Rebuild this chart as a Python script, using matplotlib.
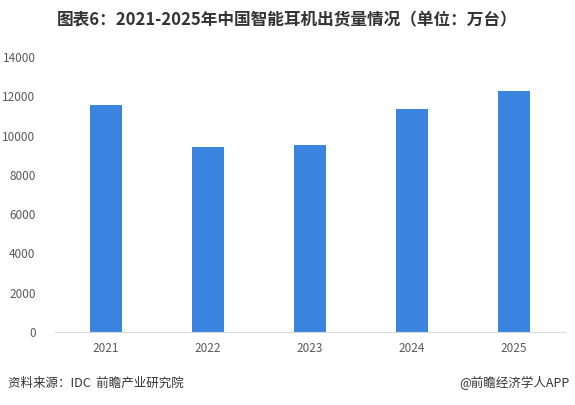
import matplotlib
matplotlib.use("Agg")
import matplotlib.pyplot as plt

plt.rcParams['font.family'] = ['Noto Sans CJK SC', 'DejaVu Sans']

years = ["2021", "2022", "2023", "2024", "2025"]
shipments = [11550, 9420, 9520, 11350, 12270]
yticks = [0, 2000, 4000, 6000, 8000, 10000, 12000, 14000]

title = "图表6：2021-2025年中国智能耳机出货量情况（单位：万台）"
source = "资料来源：IDC  前瞻产业研究院"
credit = "@前瞻经济学人APP"

fig = plt.figure(figsize=(5.75, 4.05), dpi=100)
ax = fig.add_axes([55/575, (405-332)/405, 510/575, 275/405])

x = range(len(years))
ax.bar(x, shipments, width=0.31, color="#3A84E0", zorder=2)
ax.set_xlim(-0.5, len(years) - 0.5)
ax.set_ylim(0, 14000)
ax.set_yticks(yticks)
ax.set_yticklabels([str(v) for v in yticks])
ax.set_xticks(list(x))
ax.set_xticklabels(years)

for s in ["top", "right", "left"]:
    ax.spines[s].set_visible(False)
ax.spines["bottom"].set_color("#D9D9D9")
ax.spines["bottom"].set_linewidth(0.8)
ax.tick_params(axis="both", length=0, labelsize=8.5, labelcolor="#595959")
ax.tick_params(axis="y", pad=14)
ax.tick_params(axis="x", pad=7)

fig.text(0.5, 1 - 20/405, title, ha="center", va="center", fontsize=12,
         fontweight="bold", color="#333333")
fig.text(8/575, 1 - 383/405, source, ha="left", va="center", fontsize=9,
         color="#333333")
fig.text(570/575, 1 - 383/405, credit, ha="right", va="center", fontsize=9,
         color="#333333")

fig.savefig("out.png", dpi=100)
